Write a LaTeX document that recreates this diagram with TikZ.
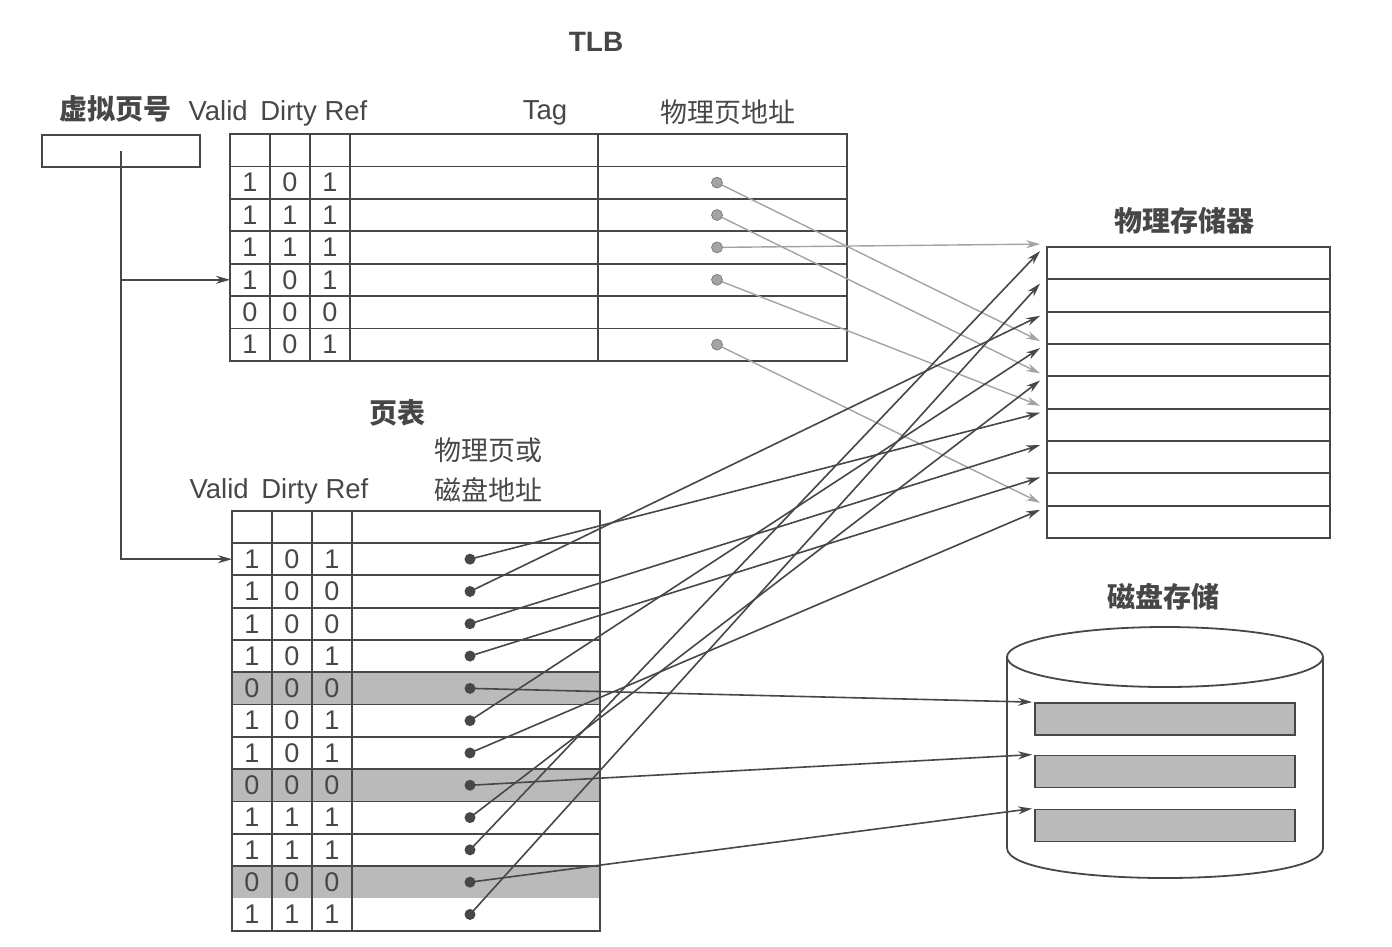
\documentclass[tikz,border=0pt]{standalone}
\usepackage{fontspec}
\setmainfont{Liberation Sans}
\newfontfamily\cjk{Noto Sans CJK SC}
\usetikzlibrary{arrows.meta, positioning, calc}

\definecolor{ink}{gray}{0.28}
\definecolor{faint}{gray}{0.64}
\definecolor{hatch}{gray}{0.73}

\begin{document}
\begin{tikzpicture}[
    x=1pt, y=-1pt,
    tabline/.style={draw=ink, line width=1.8pt},
    bit/.style={font=\fontsize{27}{30}\selectfont, text=ink, inner sep=0pt},
    head/.style={font=\fontsize{27.5}{31}\selectfont, text=ink},
    headb/.style={font=\bfseries\fontsize{28}{32}\selectfont, text=ink},
    cjkhead/.style={font=\cjk\fontsize{27}{40}\selectfont, text=ink},
    title/.style={font=\cjk\bfseries\fontsize{28}{32}\selectfont, text=ink},
    dot/.style={circle, fill=ink, inner sep=0pt, minimum size=11pt},
    tlbdot/.style={circle, fill=faint, draw=faint!70!black, line width=0.6pt, inner sep=0pt, minimum size=11pt},
    memrow/.style={rectangle, tabline, minimum width=283pt, minimum height=32.33pt, inner sep=0pt},
    block/.style={rectangle, tabline, fill=hatch, minimum width=260pt, minimum height=32pt, inner sep=0pt},
    arrow/.style={-{Stealth[length=14pt, width=8pt]}, draw=ink, line width=1.6pt},
    tlbarrow/.style={-{Stealth[length=14pt, width=8pt]}, draw=faint, line width=1.4pt}
  ]
  \useasboundingbox (0,0) rectangle (1392,946);

  \node[headb] (tlbtitle) at (596,42) {TLB};
  \node[title] (vpntitle) at (115,109) {虚拟页号};
  \node[head] (tlbbits) at (278,113) {Valid\hspace{5pt} Dirty Ref};
  \node[head] (tagtitle) at (545,113) {Tag};
  \node[cjkhead] (ppntitle) at (728,112) {物理页地址};
  \node[title] (memtitle) at (1184,221) {物理存储器};
  \node[title] (pttitle) at (397,413) {页表};
  \node[cjkhead, align=center] (ptaddr) at (488,470) {物理页或\\磁盘地址};
  \node[head] (ptbits) at (279,491) {Valid\hspace{5pt} Dirty Ref};
  \node[title] (disktitle) at (1163,597) {磁盘存储};

  \node[rectangle, tabline, minimum width=158pt, minimum height=32pt, inner sep=0pt] (vpn) at (121,151) {};

  % TLB
  \draw[tabline] (230,134) rectangle (847,360.8);
  \foreach \i in {0,...,5}
    \draw[tabline] (230,{166.4+32.4*\i}) -- (847,{166.4+32.4*\i});
  \foreach \x in {270,310,350,598}
    \draw[tabline] (\x,134) -- (\x,360.8);
  \foreach \v/\d/\f [count=\r] in {1/0/1,1/1/1,1/1/1,1/0/1,0/0/0,1/0/1} {
    \node[bit] (tlbA\r) at (250,{150.2+32.4*\r}) {\v};
    \node[bit] (tlbB\r) at (290,{150.2+32.4*\r}) {\d};
    \node[bit] (tlbC\r) at (330,{150.2+32.4*\r}) {\f};
  }
  \foreach \r in {1,2,3,4,6}
    \coordinate (tlbd\r) at (717,{150.2+32.4*\r});
  \coordinate (tlbin) at (230,279.8);

  % page table
  \foreach \r in {5,8,11}
    \fill[hatch] (232,{543+32.3*(\r-1)}) rectangle (600,{543+32.3*\r});
  \draw[tabline] (232,511) rectangle (600,930.6);
  \foreach \i in {0,...,10}
    \draw[tabline] (232,{543+32.3*\i}) -- (600,{543+32.3*\i});
  \foreach \x in {272,312,352}
    \draw[tabline] (\x,511) -- (\x,930.6);
  \foreach \v/\d/\f [count=\r] in {1/0/1,1/0/0,1/0/0,1/0/1,0/0/0,1/0/1,1/0/1,0/0/0,1/1/1,1/1/1,0/0/0,1/1/1} {
    \node[bit] (ptA\r) at (252,{526.85+32.3*\r}) {\v};
    \node[bit] (ptB\r) at (292,{526.85+32.3*\r}) {\d};
    \node[bit] (ptC\r) at (332,{526.85+32.3*\r}) {\f};
    \coordinate (ptd\r) at (470,{526.85+32.3*\r});
  }
  \coordinate (ptin) at (232,559.2);

  % physical memory
  \foreach \k in {1,...,9} {
    \node[memrow] (mem\k) at (1188.5,{247+32.33*(\k-0.5)}) {};
    \coordinate (pin\k) at ($(mem\k.north west)+(-6,5)$);
    \coordinate (tin\k) at ($(mem\k.north west)+(-6,-2)$);
  }

  % disk
  \draw[tabline, fill=white] (1007,657) -- (1007,848)
    .. controls (1007,888) and (1323,888) .. (1323,848) -- (1323,657);
  \draw[tabline] (1165,657) ellipse [x radius=158, y radius=30];
  \foreach \k/\y in {1/719,2/771.5,3/825.5} {
    \node[block] (disk\k) at (1165,\y) {};
    \coordinate (din\k) at ($(disk\k.north west)+(-2,0)$);
  }

  \draw[arrow] (vpn.center) |- (tlbin);
  \draw[arrow] (vpn.center) |- (ptin);
  \foreach \r/\k in {1/4,2/5,3/1,4/6,6/9}
    \draw[tlbarrow] (tlbd\r) -- (tin\k);
  \foreach \r/\k in {1/6,2/3,3/7,4/8,6/4,7/9,9/5,10/1,12/2}
    \draw[arrow] (ptd\r) -- (pin\k);
  \foreach \r/\k in {5/1,8/2,11/3}
    \draw[arrow] (ptd\r) -- (din\k);

  \foreach \r in {1,2,3,4,6}
    \node[tlbdot] (tlbdot\r) at (tlbd\r) {};
  \foreach \r in {1,...,12}
    \node[dot] (ptdot\r) at (ptd\r) {};
\end{tikzpicture}
\end{document}
